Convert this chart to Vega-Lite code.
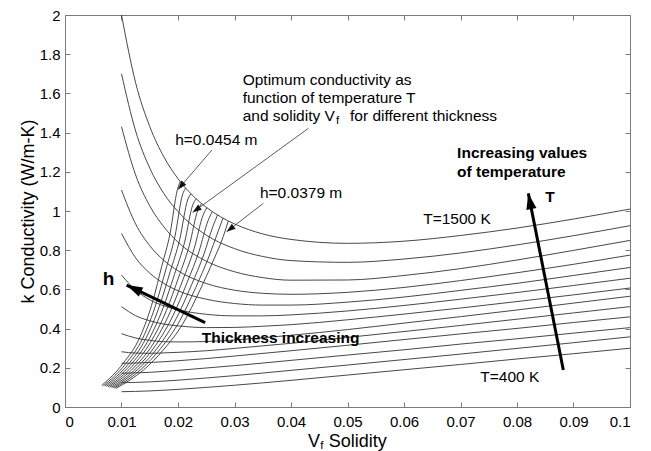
{
  "$schema": "https://vega.github.io/schema/vega-lite/v6.json",
  "width": 565,
  "height": 392,
  "autosize": {"type": "none"},
  "padding": {"left": 65, "top": 15, "right": 21, "bottom": 44},
  "background": "white",
  "config": {
    "view": {"stroke": "#7a7a7a", "strokeWidth": 1},
    "font": "Liberation Sans",
    "axis": {
      "domainColor": "#7a7a7a",
      "tickColor": "#7a7a7a",
      "tickSize": -5,
      "grid": false,
      "labelFont": "Liberation Sans",
      "labelFontSize": 15,
      "labelColor": "#000000",
      "titleFont": "Liberation Sans",
      "titleFontWeight": "normal",
      "titleColor": "#000000"
    }
  },
  "datasets": {
    "tcurves": [
      {"curve":1,"v":0.01,"k":2.0},{"curve":1,"v":0.0125,"k":1.654},{"curve":1,"v":0.015,"k":1.431},{"curve":1,"v":0.0175,"k":1.276},{"curve":1,"v":0.02,"k":1.165},{"curve":1,"v":0.0225,"k":1.082},{"curve":1,"v":0.025,"k":1.019},{"curve":1,"v":0.0275,"k":0.971},{"curve":1,"v":0.03,"k":0.934},{"curve":1,"v":0.035,"k":0.883},{"curve":1,"v":0.04,"k":0.855},{"curve":1,"v":0.05,"k":0.835},{"curve":1,"v":0.06,"k":0.846},{"curve":1,"v":0.07,"k":0.875},{"curve":1,"v":0.08,"k":0.913},{"curve":1,"v":0.09,"k":0.959},{"curve":1,"v":0.1,"k":1.01},
      {"curve":2,"v":0.01,"k":1.70},{"curve":2,"v":0.0125,"k":1.408},{"curve":2,"v":0.015,"k":1.219},{"curve":2,"v":0.0175,"k":1.089},{"curve":2,"v":0.02,"k":0.997},{"curve":2,"v":0.025,"k":0.877},{"curve":2,"v":0.03,"k":0.808},{"curve":2,"v":0.035,"k":0.768},{"curve":2,"v":0.04,"k":0.747},{"curve":2,"v":0.05,"k":0.738},{"curve":2,"v":0.06,"k":0.755},{"curve":2,"v":0.07,"k":0.786},{"curve":2,"v":0.08,"k":0.827},{"curve":2,"v":0.09,"k":0.874},{"curve":2,"v":0.1,"k":0.925},
      {"curve":3,"v":0.01,"k":1.43},{"curve":3,"v":0.0125,"k":1.184},{"curve":3,"v":0.015,"k":1.026},{"curve":3,"v":0.0175,"k":0.919},{"curve":3,"v":0.02,"k":0.841},{"curve":3,"v":0.025,"k":0.744},{"curve":3,"v":0.03,"k":0.69},{"curve":3,"v":0.035,"k":0.66},{"curve":3,"v":0.04,"k":0.647},{"curve":3,"v":0.05,"k":0.648},{"curve":3,"v":0.06,"k":0.671},{"curve":3,"v":0.07,"k":0.706},{"curve":3,"v":0.08,"k":0.75},{"curve":3,"v":0.09,"k":0.799},{"curve":3,"v":0.1,"k":0.85},
      {"curve":4,"v":0.01,"k":1.107},{"curve":4,"v":0.0125,"k":0.934},{"curve":4,"v":0.015,"k":0.823},{"curve":4,"v":0.0175,"k":0.748},{"curve":4,"v":0.02,"k":0.695},{"curve":4,"v":0.025,"k":0.63},{"curve":4,"v":0.03,"k":0.596},{"curve":4,"v":0.035,"k":0.58},{"curve":4,"v":0.04,"k":0.575},{"curve":4,"v":0.05,"k":0.585},{"curve":4,"v":0.06,"k":0.61},{"curve":4,"v":0.07,"k":0.645},{"curve":4,"v":0.08,"k":0.685},{"curve":4,"v":0.09,"k":0.728},{"curve":4,"v":0.1,"k":0.775},
      {"curve":5,"v":0.01,"k":0.886},{"curve":5,"v":0.0125,"k":0.761},{"curve":5,"v":0.015,"k":0.683},{"curve":5,"v":0.0175,"k":0.63},{"curve":5,"v":0.02,"k":0.593},{"curve":5,"v":0.025,"k":0.55},{"curve":5,"v":0.03,"k":0.528},{"curve":5,"v":0.035,"k":0.52},{"curve":5,"v":0.04,"k":0.52},{"curve":5,"v":0.05,"k":0.535},{"curve":5,"v":0.06,"k":0.561},{"curve":5,"v":0.07,"k":0.595},{"curve":5,"v":0.08,"k":0.631},{"curve":5,"v":0.09,"k":0.671},{"curve":5,"v":0.1,"k":0.712},
      {"curve":6,"v":0.01,"k":0.673},{"curve":6,"v":0.0125,"k":0.596},{"curve":6,"v":0.015,"k":0.547},{"curve":6,"v":0.0175,"k":0.516},{"curve":6,"v":0.02,"k":0.496},{"curve":6,"v":0.025,"k":0.473},{"curve":6,"v":0.03,"k":0.465},{"curve":6,"v":0.035,"k":0.465},{"curve":6,"v":0.04,"k":0.47},{"curve":6,"v":0.05,"k":0.49},{"curve":6,"v":0.06,"k":0.518},{"curve":6,"v":0.07,"k":0.55},{"curve":6,"v":0.08,"k":0.584},{"curve":6,"v":0.09,"k":0.62},{"curve":6,"v":0.1,"k":0.657},
      {"curve":7,"v":0.01,"k":0.512},{"curve":7,"v":0.0125,"k":0.466},{"curve":7,"v":0.015,"k":0.44},{"curve":7,"v":0.0175,"k":0.423},{"curve":7,"v":0.02,"k":0.414},{"curve":7,"v":0.025,"k":0.405},{"curve":7,"v":0.03,"k":0.406},{"curve":7,"v":0.035,"k":0.412},{"curve":7,"v":0.04,"k":0.42},{"curve":7,"v":0.05,"k":0.445},{"curve":7,"v":0.06,"k":0.474},{"curve":7,"v":0.07,"k":0.505},{"curve":7,"v":0.08,"k":0.538},{"curve":7,"v":0.09,"k":0.572},{"curve":7,"v":0.1,"k":0.607},
      {"curve":8,"v":0.01,"k":0.374},{"curve":8,"v":0.0125,"k":0.352},{"curve":8,"v":0.015,"k":0.34},{"curve":8,"v":0.0175,"k":0.333},{"curve":8,"v":0.02,"k":0.332},{"curve":8,"v":0.025,"k":0.334},{"curve":8,"v":0.03,"k":0.342},{"curve":8,"v":0.035,"k":0.353},{"curve":8,"v":0.04,"k":0.366},{"curve":8,"v":0.05,"k":0.395},{"curve":8,"v":0.06,"k":0.428},{"curve":8,"v":0.07,"k":0.461},{"curve":8,"v":0.08,"k":0.495},{"curve":8,"v":0.09,"k":0.53},{"curve":8,"v":0.1,"k":0.565},
      {"curve":9,"v":0.01,"k":0.282},{"curve":9,"v":0.0125,"k":0.275},{"curve":9,"v":0.015,"k":0.274},{"curve":9,"v":0.0175,"k":0.276},{"curve":9,"v":0.02,"k":0.279},{"curve":9,"v":0.025,"k":0.287},{"curve":9,"v":0.03,"k":0.299},{"curve":9,"v":0.035,"k":0.312},{"curve":9,"v":0.04,"k":0.325},{"curve":9,"v":0.05,"k":0.355},{"curve":9,"v":0.06,"k":0.385},{"curve":9,"v":0.07,"k":0.416},{"curve":9,"v":0.08,"k":0.448},{"curve":9,"v":0.09,"k":0.48},{"curve":9,"v":0.1,"k":0.512},
      {"curve":10,"v":0.01,"k":0.223},{"curve":10,"v":0.015,"k":0.227},{"curve":10,"v":0.02,"k":0.236},{"curve":10,"v":0.025,"k":0.247},{"curve":10,"v":0.03,"k":0.26},{"curve":10,"v":0.04,"k":0.287},{"curve":10,"v":0.05,"k":0.315},{"curve":10,"v":0.06,"k":0.344},{"curve":10,"v":0.07,"k":0.373},{"curve":10,"v":0.08,"k":0.401},{"curve":10,"v":0.09,"k":0.431},{"curve":10,"v":0.1,"k":0.46},
      {"curve":11,"v":0.01,"k":0.172},{"curve":11,"v":0.015,"k":0.177},{"curve":11,"v":0.02,"k":0.187},{"curve":11,"v":0.025,"k":0.199},{"curve":11,"v":0.03,"k":0.211},{"curve":11,"v":0.04,"k":0.238},{"curve":11,"v":0.05,"k":0.265},{"curve":11,"v":0.06,"k":0.292},{"curve":11,"v":0.07,"k":0.321},{"curve":11,"v":0.08,"k":0.348},{"curve":11,"v":0.09,"k":0.377},{"curve":11,"v":0.1,"k":0.405},
      {"curve":12,"v":0.01,"k":0.124},{"curve":12,"v":0.015,"k":0.128},{"curve":12,"v":0.02,"k":0.137},{"curve":12,"v":0.025,"k":0.148},{"curve":12,"v":0.03,"k":0.16},{"curve":12,"v":0.04,"k":0.187},{"curve":12,"v":0.05,"k":0.214},{"curve":12,"v":0.06,"k":0.242},{"curve":12,"v":0.07,"k":0.27},{"curve":12,"v":0.08,"k":0.299},{"curve":12,"v":0.09,"k":0.328},{"curve":12,"v":0.1,"k":0.358},
      {"curve":13,"v":0.01,"k":0.078},{"curve":13,"v":0.015,"k":0.082},{"curve":13,"v":0.02,"k":0.09},{"curve":13,"v":0.025,"k":0.1},{"curve":13,"v":0.03,"k":0.111},{"curve":13,"v":0.04,"k":0.136},{"curve":13,"v":0.05,"k":0.163},{"curve":13,"v":0.06,"k":0.19},{"curve":13,"v":0.07,"k":0.217},{"curve":13,"v":0.08,"k":0.245},{"curve":13,"v":0.09,"k":0.272},{"curve":13,"v":0.1,"k":0.30}
    ],
    "hcurves": [
      {"h":0,"v":0.0065,"k":0.110},{"h":0,"v":0.0103,"k":0.223},{"h":0,"v":0.0133,"k":0.359},{"h":0,"v":0.0156,"k":0.546},{"h":0,"v":0.0171,"k":0.716},{"h":0,"v":0.0186,"k":0.886},{"h":0,"v":0.0199,"k":1.110},{"h":0,"v":0.0204,"k":1.150},
      {"h":1,"v":0.00678,"k":0.108},{"h":1,"v":0.0107,"k":0.219},{"h":1,"v":0.01376,"k":0.351},{"h":1,"v":0.01619,"k":0.533},{"h":1,"v":0.01786,"k":0.703},{"h":1,"v":0.01946,"k":0.871},{"h":1,"v":0.0208,"k":1.083},{"h":1,"v":0.02134,"k":1.117},
      {"h":2,"v":0.00706,"k":0.107},{"h":2,"v":0.0111,"k":0.215},{"h":2,"v":0.01421,"k":0.344},{"h":2,"v":0.01678,"k":0.520},{"h":2,"v":0.01861,"k":0.690},{"h":2,"v":0.02031,"k":0.856},{"h":2,"v":0.0217,"k":1.056},{"h":2,"v":0.02229,"k":1.088},
      {"h":3,"v":0.00733,"k":0.105},{"h":3,"v":0.0115,"k":0.212},{"h":3,"v":0.01467,"k":0.336},{"h":3,"v":0.01737,"k":0.506},{"h":3,"v":0.01937,"k":0.676},{"h":3,"v":0.02117,"k":0.841},{"h":3,"v":0.0226,"k":1.030},{"h":3,"v":0.02323,"k":1.062},
      {"h":4,"v":0.00761,"k":0.103},{"h":4,"v":0.0119,"k":0.208},{"h":4,"v":0.01512,"k":0.329},{"h":4,"v":0.01796,"k":0.493},{"h":4,"v":0.02012,"k":0.663},{"h":4,"v":0.02202,"k":0.826},{"h":4,"v":0.0235,"k":1.003},{"h":4,"v":0.02418,"k":1.038},
      {"h":5,"v":0.00789,"k":0.102},{"h":5,"v":0.0123,"k":0.204},{"h":5,"v":0.01558,"k":0.321},{"h":5,"v":0.01854,"k":0.480},{"h":5,"v":0.02088,"k":0.650},{"h":5,"v":0.02288,"k":0.810},{"h":5,"v":0.0244,"k":0.976},{"h":5,"v":0.02512,"k":1.017},
      {"h":6,"v":0.00817,"k":0.100},{"h":6,"v":0.0127,"k":0.200},{"h":6,"v":0.01603,"k":0.314},{"h":6,"v":0.01913,"k":0.467},{"h":6,"v":0.02163,"k":0.637},{"h":6,"v":0.02373,"k":0.795},{"h":6,"v":0.0253,"k":0.949},{"h":6,"v":0.02607,"k":0.997},
      {"h":7,"v":0.00844,"k":0.098},{"h":7,"v":0.0131,"k":0.197},{"h":7,"v":0.01649,"k":0.306},{"h":7,"v":0.01972,"k":0.453},{"h":7,"v":0.02239,"k":0.623},{"h":7,"v":0.02459,"k":0.780},{"h":7,"v":0.0262,"k":0.923},{"h":7,"v":0.02701,"k":0.980},
      {"h":8,"v":0.00872,"k":0.097},{"h":8,"v":0.0135,"k":0.193},{"h":8,"v":0.01694,"k":0.299},{"h":8,"v":0.02031,"k":0.440},{"h":8,"v":0.02314,"k":0.610},{"h":8,"v":0.02544,"k":0.765},{"h":8,"v":0.0271,"k":0.896},{"h":8,"v":0.02796,"k":0.964},
      {"h":9,"v":0.0090,"k":0.095},{"h":9,"v":0.0139,"k":0.189},{"h":9,"v":0.0174,"k":0.291},{"h":9,"v":0.0209,"k":0.427},{"h":9,"v":0.0239,"k":0.597},{"h":9,"v":0.0263,"k":0.750},{"h":9,"v":0.0280,"k":0.869},{"h":9,"v":0.0289,"k":0.949}
    ],
    "thinArrows": [
      {"x":0.0260,"y":1.311,"x2":0.0200,"y2":1.11},
      {"x":0.0431,"y":1.422,"x2":0.0226,"y2":0.993},
      {"x":0.0351,"y":1.039,"x2":0.0286,"y2":0.894}
    ],
    "thickArrows": [
      {"x":0.0882,"y":0.189,"x2":0.0820,"y2":1.09},
      {"x":0.0248,"y":0.43,"x2":0.0109,"y2":0.622}
    ],
    "notes": [
      {"x":0.03145,"y":1.668,"t":"Optimum conductivity as"},
      {"x":0.03145,"y":1.575,"t":"function of temperature T"},
      {"x":0.03145,"y":1.485,"t":"and solidity V"},
      {"x":0.05044,"y":1.485,"t":"for different thickness"},
      {"x":0.0195,"y":1.362,"t":"h=0.0454 m"},
      {"x":0.0345,"y":1.09,"t":"h=0.0379 m"},
      {"x":0.0634,"y":0.957,"t":"T=1500 K"},
      {"x":0.0735,"y":0.152,"t":"T=400 K"}
    ],
    "boldNotes": [
      {"x":0.0694,"y":1.297,"t":"Increasing values"},
      {"x":0.0694,"y":1.20,"t":"of temperature"},
      {"x":0.0850,"y":1.073,"t":"T"},
      {"x":0.0242,"y":0.35,"t":"Thickness increasing"}
    ],
    "bigBold": [
      {"x":0.0067,"y":0.655,"t":"h"}
    ],
    "subs": [
      {"x":0.04796,"y":1.459,"t":"f"},
      {"x":0.04518,"y":-0.2,"t":"f"}
    ],
    "xTitle": [
      {"x":0.0430,"y":-0.178,"t":"V"},
      {"x":0.04669,"y":-0.178,"t":"Solidity"}
    ]
  },
  "layer": [
    {
      "data": {"name": "tcurves"},
      "mark": {"type": "line", "interpolate": "monotone", "color": "#333333", "strokeWidth": 0.9, "clip": true},
      "encoding": {
        "x": {"field": "v", "type": "quantitative", "scale": {"domain": [0, 0.1], "nice": false, "zero": false},
              "axis": {"orient": "bottom", "values": [0,0.01,0.02,0.03,0.04,0.05,0.06,0.07,0.08,0.09,0.1], "format": "~g", "title": null, "labelPadding": 12}},
        "y": {"field": "k", "type": "quantitative", "scale": {"domain": [0, 2], "nice": false, "zero": false},
              "axis": {"orient": "left", "values": [0,0.2,0.4,0.6,0.8,1,1.2,1.4,1.6,1.8,2], "format": "~g", "title": "k Conductivity (W/m-K)", "titleFontSize": 18, "titlePadding": 2, "labelPadding": 10}},
        "detail": {"field": "curve", "type": "nominal"}
      }
    },
    {
      "data": {"name": "hcurves"},
      "mark": {"type": "line", "interpolate": "monotone", "color": "#333333", "strokeWidth": 0.9, "clip": true},
      "encoding": {
        "x": {"field": "v", "type": "quantitative", "scale": {"domain": [0, 0.1], "nice": false, "zero": false},
              "axis": {"orient": "top", "values": [0,0.01,0.02,0.03,0.04,0.05,0.06,0.07,0.08,0.09,0.1], "labels": false, "title": null}},
        "y": {"field": "k", "type": "quantitative", "scale": {"domain": [0, 2], "nice": false, "zero": false},
              "axis": {"orient": "right", "values": [0,0.2,0.4,0.6,0.8,1,1.2,1.4,1.6,1.8,2], "labels": false, "title": null}},
        "detail": {"field": "h", "type": "nominal"}
      }
    },
    {
      "data": {"name": "thinArrows"},
      "mark": {"type": "rule", "color": "#333333", "strokeWidth": 0.8},
      "encoding": {
        "x": {"field": "x", "type": "quantitative", "scale": {"domain": [0, 0.1], "nice": false, "zero": false}, "axis": null},
        "y": {"field": "y", "type": "quantitative", "scale": {"domain": [0, 2], "nice": false, "zero": false}, "axis": null},
        "x2": {"field": "x2"},
        "y2": {"field": "y2"}
      }
    },
    {
      "data": {"name": "thinArrows"},
      "transform": [{"calculate": "atan2((datum.x2-datum.x)*5650,(datum.y2-datum.y)*196)*180/PI", "as": "ang"}],
      "mark": {"type": "point", "shape": "M0,0L0.35,1L-0.35,1Z", "filled": true, "size": 324, "color": "#111111", "opacity": 1, "strokeWidth": 0},
      "encoding": {
        "x": {"field": "x2", "type": "quantitative", "scale": {"domain": [0, 0.1], "nice": false, "zero": false}, "axis": null},
        "y": {"field": "y2", "type": "quantitative", "scale": {"domain": [0, 2], "nice": false, "zero": false}, "axis": null},
        "angle": {"field": "ang", "type": "quantitative", "scale": null}
      }
    },
    {
      "data": {"name": "thickArrows"},
      "mark": {"type": "rule", "color": "#000000", "strokeWidth": 3},
      "encoding": {
        "x": {"field": "x", "type": "quantitative", "scale": {"domain": [0, 0.1], "nice": false, "zero": false}, "axis": null},
        "y": {"field": "y", "type": "quantitative", "scale": {"domain": [0, 2], "nice": false, "zero": false}, "axis": null},
        "x2": {"field": "x2"},
        "y2": {"field": "y2"}
      }
    },
    {
      "data": {"name": "thickArrows"},
      "transform": [{"calculate": "atan2((datum.x2-datum.x)*5650,(datum.y2-datum.y)*196)*180/PI", "as": "ang"}],
      "mark": {"type": "point", "shape": "M0,0L0.32,1L-0.32,1Z", "filled": true, "size": 1024, "color": "#000000", "opacity": 1, "strokeWidth": 0},
      "encoding": {
        "x": {"field": "x2", "type": "quantitative", "scale": {"domain": [0, 0.1], "nice": false, "zero": false}, "axis": null},
        "y": {"field": "y2", "type": "quantitative", "scale": {"domain": [0, 2], "nice": false, "zero": false}, "axis": null},
        "angle": {"field": "ang", "type": "quantitative", "scale": null}
      }
    },
    {
      "data": {"name": "notes"},
      "mark": {"type": "text", "align": "left", "baseline": "middle", "font": "Liberation Sans", "fontSize": 15.5, "color": "#000000"},
      "encoding": {
        "x": {"field": "x", "type": "quantitative", "scale": {"domain": [0, 0.1], "nice": false, "zero": false}, "axis": null},
        "y": {"field": "y", "type": "quantitative", "scale": {"domain": [0, 2], "nice": false, "zero": false}, "axis": null},
        "text": {"field": "t"}
      }
    },
    {
      "data": {"name": "boldNotes"},
      "mark": {"type": "text", "align": "left", "baseline": "middle", "font": "Liberation Sans", "fontSize": 15.5, "fontWeight": "bold", "color": "#000000"},
      "encoding": {
        "x": {"field": "x", "type": "quantitative", "scale": {"domain": [0, 0.1], "nice": false, "zero": false}, "axis": null},
        "y": {"field": "y", "type": "quantitative", "scale": {"domain": [0, 2], "nice": false, "zero": false}, "axis": null},
        "text": {"field": "t"}
      }
    },
    {
      "data": {"name": "bigBold"},
      "mark": {"type": "text", "align": "left", "baseline": "middle", "font": "Liberation Sans", "fontSize": 19, "fontWeight": "bold", "color": "#000000"},
      "encoding": {
        "x": {"field": "x", "type": "quantitative", "scale": {"domain": [0, 0.1], "nice": false, "zero": false}, "axis": null},
        "y": {"field": "y", "type": "quantitative", "scale": {"domain": [0, 2], "nice": false, "zero": false}, "axis": null},
        "text": {"field": "t"}
      }
    },
    {
      "data": {"name": "subs"},
      "mark": {"type": "text", "align": "left", "baseline": "middle", "font": "Liberation Sans", "fontSize": 11.5, "color": "#000000"},
      "encoding": {
        "x": {"field": "x", "type": "quantitative", "scale": {"domain": [0, 0.1], "nice": false, "zero": false}, "axis": null},
        "y": {"field": "y", "type": "quantitative", "scale": {"domain": [0, 2], "nice": false, "zero": false}, "axis": null},
        "text": {"field": "t"}
      }
    },
    {
      "data": {"name": "xTitle"},
      "mark": {"type": "text", "align": "left", "baseline": "middle", "font": "Liberation Sans", "fontSize": 18, "color": "#000000"},
      "encoding": {
        "x": {"field": "x", "type": "quantitative", "scale": {"domain": [0, 0.1], "nice": false, "zero": false}, "axis": null},
        "y": {"field": "y", "type": "quantitative", "scale": {"domain": [0, 2], "nice": false, "zero": false}, "axis": null},
        "text": {"field": "t"}
      }
    }
  ],
  "resolve": {"axis": {"x": "independent", "y": "independent"}}
}
